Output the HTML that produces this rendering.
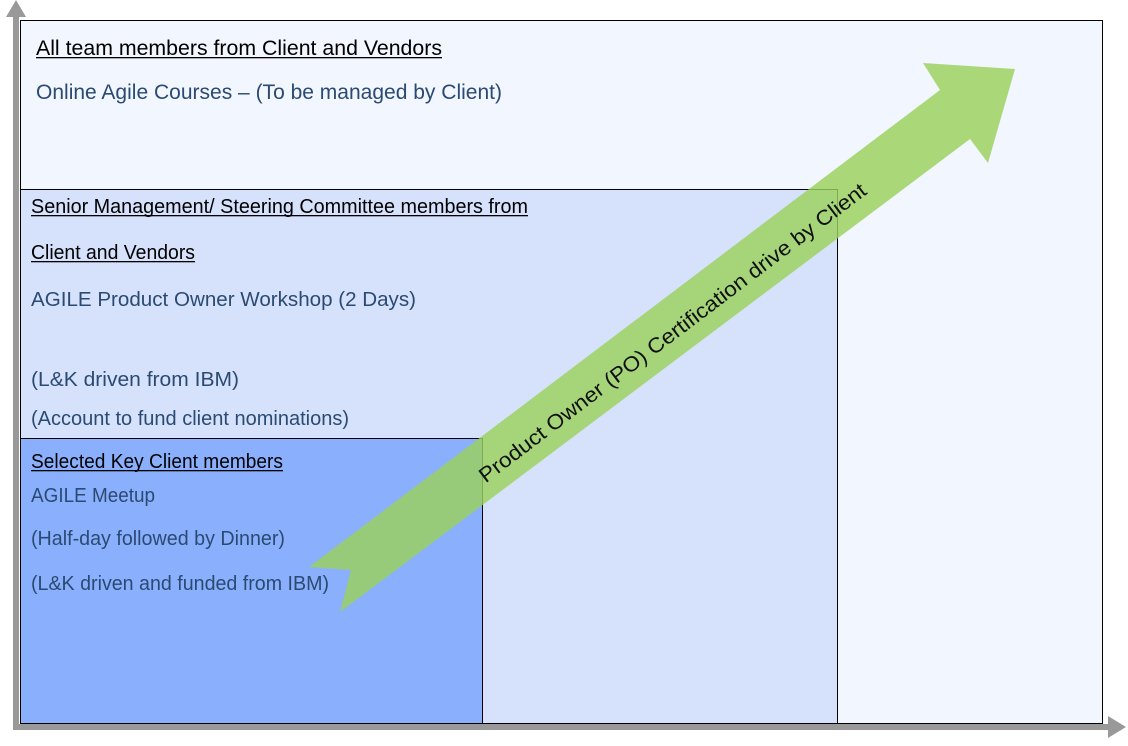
<!DOCTYPE html>
<html><head><meta charset="utf-8"><style>
html,body{margin:0;padding:0;background:#fff;}
svg{display:block;}
text{font-family:"Liberation Sans",sans-serif;}
</style></head><body>
<svg width="1128" height="746" viewBox="0 0 1128 746" xmlns="http://www.w3.org/2000/svg">
<rect x="20.5" y="20.5" width="1082" height="703" fill="#f2f6fe" stroke="#000" stroke-width="1"/>
<rect x="20.5" y="189.5" width="817" height="534" fill="#d6e2fc" stroke="#000" stroke-width="1"/>
<rect x="20.5" y="438.5" width="462" height="285" fill="#8ab0fd" stroke="#000" stroke-width="1"/>
<!-- axes -->
<rect x="13" y="14" width="6" height="716" fill="#999"/>
<polygon points="16,0 6,17 26,17" fill="#999"/>
<rect x="13" y="724" width="1097" height="6" fill="#999"/>
<polygon points="1126,727 1108,716 1108,738" fill="#999"/>
<!-- green arrow -->
<polygon points="309,567 351,570 340,612 970,139 988,163 1015,69 923,63 940,90" fill="#9ad15c" fill-opacity="0.82"/>
<text x="672" y="340" transform="rotate(-37.2 672 332)" text-anchor="middle" font-size="21" fill="#111" textLength="480" lengthAdjust="spacingAndGlyphs">Product Owner (PO) Certification drive by Client</text>
<!-- texts -->
<g font-size="21">
<text x="36" y="55" fill="#000" textLength="406" lengthAdjust="spacingAndGlyphs">All team members from Client and Vendors</text>
<rect x="36" y="57" width="406" height="1.3" fill="#000"/>
<text x="36" y="99" fill="#2b4a72" textLength="466" lengthAdjust="spacingAndGlyphs">Online Agile Courses –  (To be managed by Client)</text>
</g>
<g font-size="20">
<text x="31" y="213" fill="#000" textLength="497" lengthAdjust="spacingAndGlyphs">Senior Management/ Steering Committee members from</text>
<rect x="31" y="215" width="497" height="1.3" fill="#000"/>
<text x="31" y="259" fill="#000" textLength="164" lengthAdjust="spacingAndGlyphs">Client and Vendors</text>
<rect x="31" y="261" width="164" height="1.3" fill="#000"/>
<text x="31" y="306" fill="#2b4a72" textLength="385" lengthAdjust="spacingAndGlyphs">AGILE Product Owner Workshop  (2 Days)</text>
<text x="31" y="386" fill="#2b4a72" textLength="208" lengthAdjust="spacingAndGlyphs">(L&amp;K driven from IBM)</text>
<text x="31" y="425" fill="#2b4a72" textLength="318" lengthAdjust="spacingAndGlyphs">(Account to fund client nominations)</text>
<text x="31" y="468" fill="#000" textLength="252" lengthAdjust="spacingAndGlyphs">Selected Key Client members</text>
<rect x="31" y="470" width="252" height="1.3" fill="#000"/>
<text x="31" y="502" fill="#2b4a72" textLength="124" lengthAdjust="spacingAndGlyphs">AGILE Meetup</text>
<text x="31" y="545" fill="#2b4a72" textLength="254" lengthAdjust="spacingAndGlyphs">(Half-day followed by Dinner)</text>
<text x="31" y="590" fill="#2b4a72" textLength="298" lengthAdjust="spacingAndGlyphs">(L&amp;K driven and funded from IBM)</text>
</g>
</svg>
</body></html>
